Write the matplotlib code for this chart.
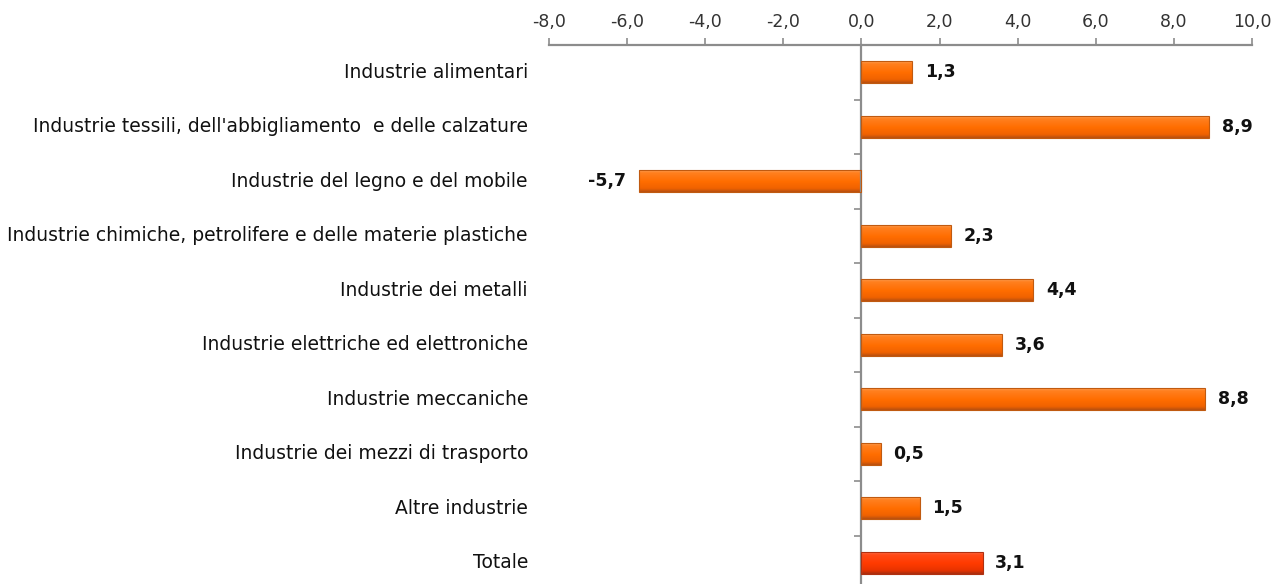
import numpy as np
import matplotlib
matplotlib.use('Agg')
import matplotlib.pyplot as plt
from matplotlib.colors import LinearSegmentedColormap

# data
categories = [
    'Industrie alimentari',
    "Industrie tessili, dell'abbigliamento  e delle calzature",
    'Industrie del legno e del mobile',
    'Industrie chimiche, petrolifere e delle materie plastiche',
    'Industrie dei metalli',
    'Industrie elettriche ed elettroniche',
    'Industrie meccaniche',
    'Industrie dei mezzi di trasporto',
    'Altre industrie',
    'Totale',
]
values = [1.3, 8.9, -5.7, 2.3, 4.4, 3.6, 8.8, 0.5, 1.5, 3.1]
xticks = [-8, -6, -4, -2, 0, 2, 4, 6, 8, 10]

plt.rcParams['font.family'] = ['DejaVu Sans']

fig = plt.figure(figsize=(12.84, 5.84), dpi=100)
ax = fig.add_axes([0.4276, -0.0103, 0.5475, 0.9332])

# gradient colormaps (top light -> body -> bottom dark)
orange = LinearSegmentedColormap.from_list(
    'orange', [(0, '#ffb070'), (0.15, '#ff8020'), (0.55, '#ff6d00'), (0.85, '#f06200'), (1, '#b85010')])
red = LinearSegmentedColormap.from_list(
    'red', [(0, '#ff8060'), (0.15, '#ff4a18'), (0.55, '#ff3a00'), (0.85, '#e83300'), (1, '#a82e10')])

y = np.arange(len(categories))
bars = ax.barh(y, values, height=0.41, color='none', edgecolor='none')
grad = np.linspace(0, 1, 64).reshape(-1, 1)
for i, b in enumerate(bars):
    cmap = red if categories[i] == 'Totale' else orange
    x0, w = b.get_x(), b.get_width()
    y0, h = b.get_y(), b.get_height()
    im = ax.imshow(grad, cmap=cmap, aspect='auto', interpolation='bilinear',
                   extent=[min(x0, x0 + w), max(x0, x0 + w), y0 + h, y0], zorder=2)
    im.set_clip_path(b)
    edge = '#b03010' if categories[i] == 'Totale' else '#c05a10'
    ax.barh(y[i], values[i], height=0.41, color='none', edgecolor=edge, linewidth=0.8, zorder=3)

# value labels
for yi, v in zip(y, values):
    txt = f'{v:.1f}'.replace('.', ',')
    if v >= 0:
        ax.annotate(txt, (v, yi), xytext=(9, 0), textcoords='offset points',
                    ha='left', va='center', fontsize=12.5, fontweight='bold', color='#111111')
    else:
        ax.annotate(txt, (v, yi), xytext=(-9, 0), textcoords='offset points',
                    ha='right', va='center', fontsize=12.5, fontweight='bold', color='#111111')

ax.set_xlim(-8, 10)
ax.set_ylim(len(categories) - 0.5, -0.5)

# x axis on top
ax.xaxis.set_ticks_position('top')
ax.xaxis.set_label_position('top')
ax.set_xticks(xticks)
ax.set_xticklabels([f'{t:.1f}'.replace('.', ',') for t in xticks])
ax.tick_params(axis='x', direction='out', length=5, width=1.2, color='#8c8c8c',
               labelsize=12.5, labelcolor='#333333', pad=5)

# y axis line at zero with ticks between categories
ax.spines['left'].set_position(('data', 0))
ax.set_yticks([])
ax.set_yticks(np.arange(len(categories) - 1) + 0.5, minor=True)
ax.tick_params(axis='y', which='minor', direction='out', length=5, width=1.2, color='#8c8c8c')
for s in ['right', 'bottom']:
    ax.spines[s].set_visible(False)
for s in ['top', 'left']:
    ax.spines[s].set_color('#8c8c8c')
    ax.spines[s].set_linewidth(1.6)

# category labels at the left of the plot area
for yi, c in zip(y, categories):
    ax.text(-0.03, yi, c, transform=ax.get_yaxis_transform(), ha='right', va='center',
            fontsize=13.5, color='#111111')

fig.savefig('out.png', dpi=100)
